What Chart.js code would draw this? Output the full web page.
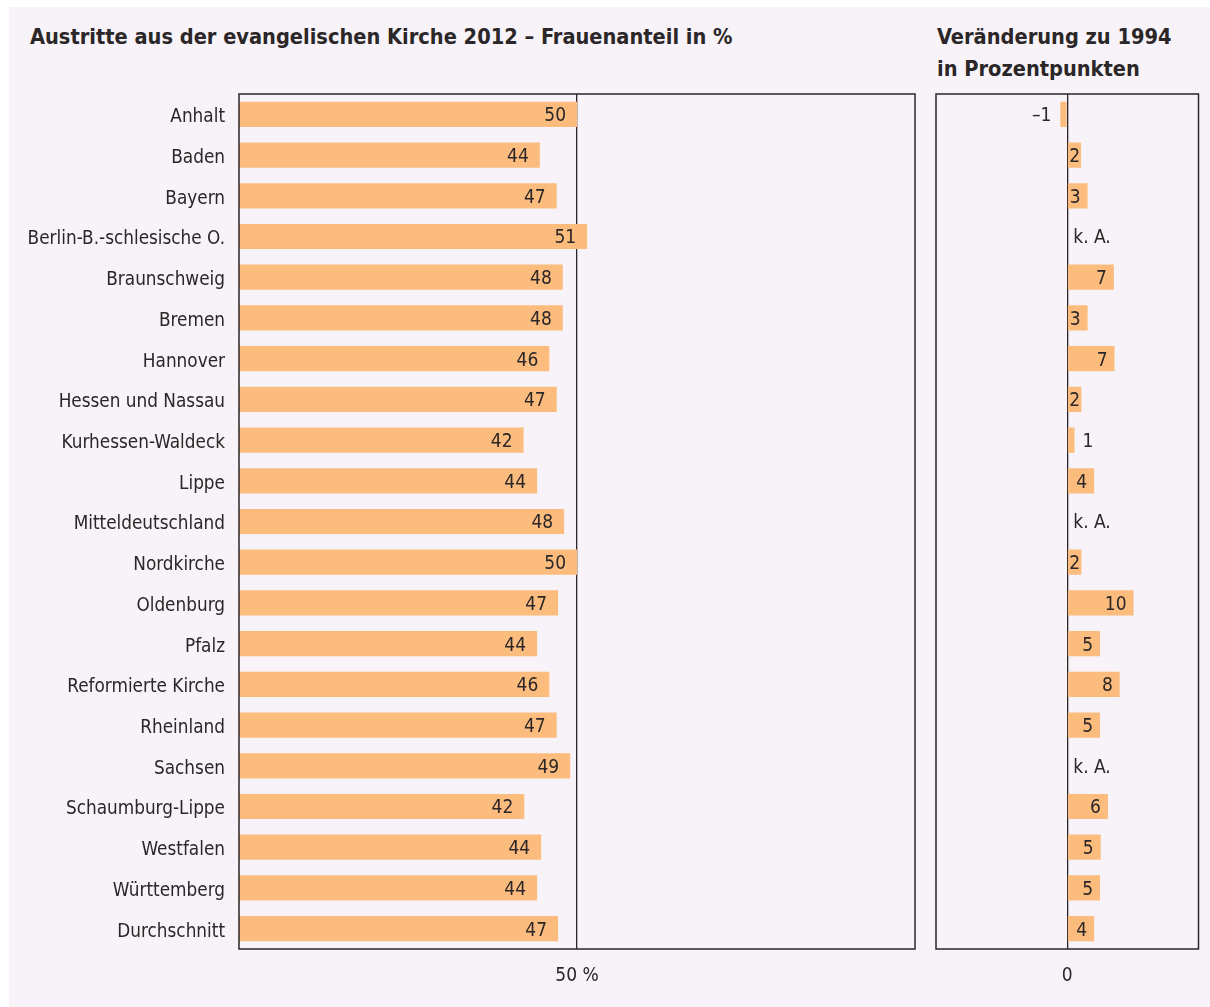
<!DOCTYPE html>
<html lang="de">
<head>
<meta charset="utf-8">
<title>Austritte aus der evangelischen Kirche 2012</title>
<script src="https://cdn.jsdelivr.net/npm/chart.js@4.4.1/dist/chart.umd.min.js"></script>
<style>
  html, body { margin: 0; padding: 0; background: #fff; }
  body { position: relative; width: 1210px; height: 1007px; overflow: hidden; }
  #page { position: absolute; left: 9px; top: 7px; width: 1201px; height: 1000px; background: #f7f3f8; }
  .title { position: absolute; color: #2b2627; font-family: 'Liberation Sans Narrow', 'DejaVu Sans Condensed', sans-serif;
           font-weight: bold; font-size: 21.6px; white-space: nowrap; }
  #t1 { left: 30px; top: 25px; line-height: 23px; }
  #t2 { left: 937px; top: 21px; line-height: 32px; }
  canvas { position: absolute; top: 0; }
  #share { left: 0; }
  #change { left: 930px; }
</style>
</head>
<body>
<div id="page"></div>
<div class="title" id="t1">Austritte aus der evangelischen Kirche 2012 – Frauenanteil in %</div>
<div class="title" id="t2">Veränderung zu 1994<br>in Prozentpunkten</div>
<canvas id="share" width="930" height="1007"></canvas>
<canvas id="change" width="280" height="1007"></canvas>
<script>
// Landeskirchen
var categories = ['Anhalt', 'Baden', 'Bayern', 'Berlin-B.-schlesische O.', 'Braunschweig', 'Bremen',
  'Hannover', 'Hessen und Nassau', 'Kurhessen-Waldeck', 'Lippe', 'Mitteldeutschland', 'Nordkirche',
  'Oldenburg', 'Pfalz', 'Reformierte Kirche', 'Rheinland', 'Sachsen', 'Schaumburg-Lippe',
  'Westfalen', 'Württemberg', 'Durchschnitt'];

// Frauenanteil 2012 in % (bar lengths)
var share2012 = [50, 44.5, 47, 51.5, 47.9, 47.9, 45.9, 47, 42.1, 44.1, 48.1, 50, 47.2, 44.1, 45.9, 47, 49, 42.2, 44.7, 44.1, 47.2];
var shareLabels = ['50', '44', '47', '51', '48', '48', '46', '47', '42', '44', '48', '50', '47', '44', '46', '47', '49', '42', '44', '44', '47'];

// Veränderung zu 1994 in Prozentpunkten (null = keine Angabe)
var change1994 = [-1.05, 2.1, 3.1, null, 7.1, 3.1, 7.2, 2.15, 1.1, 4.1, null, 2.15, 10.1, 5, 8, 5, null, 6.2, 5.1, 5, 4.1];
var changeLabels = ['–1', '2', '3', 'k. A.', '7', '3', '7', '2', '1', '4', 'k. A.', '2', '10', '5', '8', '5', 'k. A.', '6', '5', '5', '4'];

var shareTicks = [50];
var changeTicks = [0];

var INK = '#2b2627';
var BAR = '#fbbc7e';
var FONT = "'Liberation Sans Narrow', 'DejaVu Sans Condensed', sans-serif";

// frame round the plot area
var frame = {
  id: 'frame',
  afterDraw: function (chart) {
    var a = chart.chartArea, ctx = chart.ctx;
    ctx.save();
    ctx.strokeStyle = INK;
    ctx.lineWidth = 1.5;
    ctx.strokeRect(a.left, a.top, a.right - a.left, a.bottom - a.top);
    ctx.restore();
  }
};

// numbers on / next to the bars
var valueLabels = {
  id: 'valueLabels',
  afterDatasetsDraw: function (chart, args, opts) {
    var ctx = chart.ctx;
    var meta = chart.getDatasetMeta(0);
    var values = chart.data.datasets[0].data;
    var zero = chart.scales.x.getPixelForValue(0);
    ctx.save();
    ctx.font = opts.size + 'px ' + FONT;
    ctx.fillStyle = INK;
    ctx.textBaseline = 'middle';
    ctx.textAlign = 'left';
    meta.data.forEach(function (bar, i) {
      var text = opts.texts[i];
      var v = values[i];
      var y = bar.y + 2;
      var w = ctx.measureText(text).width;
      if (v === null) {
        ctx.fillText(text, zero + 6, y);
      } else if (v < 0) {
        ctx.fillText(text, bar.x - 9 - w, y);
      } else if (bar.x - zero < w) {
        ctx.fillText(text, bar.x + 8, y);
      } else {
        ctx.fillText(text, Math.max(bar.x - opts.pad - w, zero + 2), y);
      }
    });
    ctx.restore();
  }
};

function setTicks(list) {
  return function (scale) {
    scale.ticks = list.map(function (v) { return { value: v }; });
  };
}

new Chart(document.getElementById('share').getContext('2d'), {
  type: 'bar',
  data: {
    labels: categories,
    datasets: [{ data: share2012, backgroundColor: BAR, barPercentage: 0.62, categoryPercentage: 1 }]
  },
  options: {
    indexAxis: 'y',
    responsive: false,
    animation: false,
    layout: { padding: { top: 94, right: 15, bottom: 18, left: 0 } },
    plugins: {
      legend: { display: false },
      tooltip: { enabled: false },
      valueLabels: { texts: shareLabels, size: 19, pad: 11 }
    },
    scales: {
      x: {
        min: 0, max: 100,
        afterBuildTicks: setTicks(shareTicks),
        afterFit: function (s) { s.height = 40; },
        grid: { color: INK, lineWidth: 1.3, drawTicks: false },
        border: { display: false },
        ticks: { padding: 16, color: INK, font: { family: FONT, size: 19 }, callback: function (v) { return v + ' %'; } }
      },
      y: {
        afterFit: function (s) { s.width = 239; },
        grid: { display: false },
        border: { display: false },
        ticks: { padding: 6, labelOffset: 3, color: INK, font: { family: FONT, size: 18.8 } }
      }
    }
  },
  plugins: [frame, valueLabels]
});

new Chart(document.getElementById('change').getContext('2d'), {
  type: 'bar',
  data: {
    labels: categories,
    datasets: [{ data: change1994, backgroundColor: BAR, barPercentage: 0.62, categoryPercentage: 1 }]
  },
  options: {
    indexAxis: 'y',
    responsive: false,
    animation: false,
    layout: { padding: { top: 94, right: 11.5, bottom: 18, left: 6 } },
    plugins: {
      legend: { display: false },
      tooltip: { enabled: false },
      valueLabels: { texts: changeLabels, size: 19, pad: 7 }
    },
    scales: {
      x: {
        min: -20, max: 20,
        z: 1,
        afterBuildTicks: setTicks(changeTicks),
        afterFit: function (s) { s.height = 40; },
        grid: { color: INK, lineWidth: 1.3, drawTicks: false },
        border: { display: false },
        ticks: { padding: 16, color: INK, font: { family: FONT, size: 19 } }
      },
      y: { display: false }
    }
  },
  plugins: [frame, valueLabels]
});
</script>
</body>
</html>
